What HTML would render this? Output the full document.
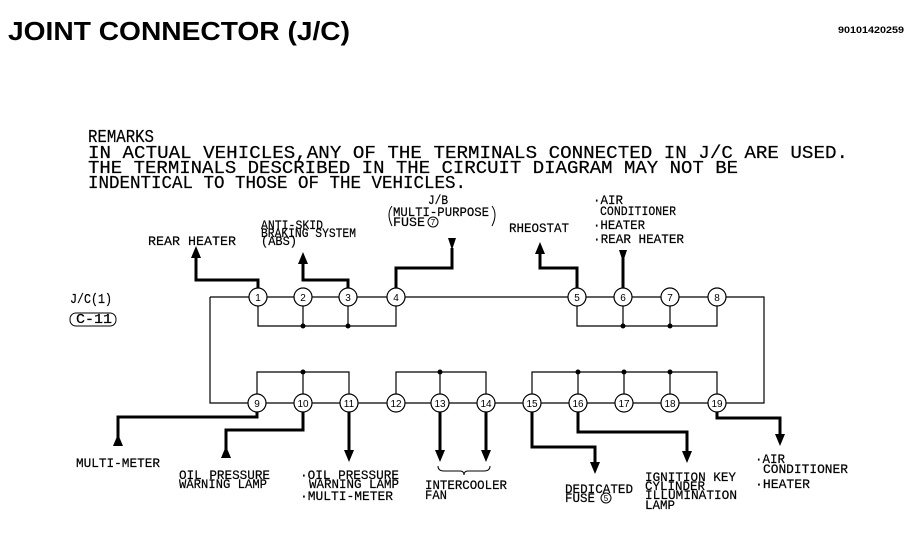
<!DOCTYPE html>
<html><head><meta charset="utf-8"><style>
html,body{margin:0;padding:0;background:#fff;width:922px;height:560px;overflow:hidden}
svg{display:block}
.t{font-family:"Liberation Mono",monospace;font-size:13px;fill:#000;stroke:#000;stroke-width:0.2}
.r{font-family:"Liberation Mono",monospace;font-size:18px;fill:#000;stroke:#000;stroke-width:0.2}
.n{font-family:"Liberation Sans",sans-serif;font-size:10px;fill:#000;text-anchor:middle}
</style></head><body>
<svg width="922" height="560" viewBox="0 0 922 560" xmlns="http://www.w3.org/2000/svg">
<text x="8" y="40" font-family="Liberation Sans,sans-serif" font-weight="bold" font-size="26" textLength="342" lengthAdjust="spacingAndGlyphs">JOINT CONNECTOR (J/C)</text>
<text x="838" y="33" font-family="Liberation Sans,sans-serif" font-weight="bold" font-size="9" textLength="66" lengthAdjust="spacingAndGlyphs">90101420259</text>

<text class="r" x="88" y="142" textLength="66" lengthAdjust="spacingAndGlyphs">REMARKS</text>
<text class="r" x="88" y="158" textLength="760" lengthAdjust="spacingAndGlyphs">IN ACTUAL VEHICLES,ANY OF THE TERMINALS CONNECTED IN J/C ARE USED.</text>
<text class="r" x="88" y="173" textLength="650" lengthAdjust="spacingAndGlyphs">THE TERMINALS DESCRIBED IN THE CIRCUIT DIAGRAM MAY NOT BE</text>
<text class="r" x="88" y="188" textLength="378" lengthAdjust="spacingAndGlyphs">INDENTICAL TO THOSE OF THE VEHICLES.</text>

<g stroke="#000" fill="none" stroke-width="1.2">
<path d="M210 297H764V403H717M210 297V403H717"/>
<path d="M258 297V326H396V297M303 297V326M348 297V326M577 297V326H717V297M623 297V326M670 297V326"/>
<path d="M257 403V372H349V403M303 372V403M396 403V372H486V403M440 372V403M532 403V372H717V403M578 372V403M624 372V403M670 372V403"/>
</g>
<g fill="#000"><circle cx="303" cy="326" r="2.5"/><circle cx="348" cy="326" r="2.5"/><circle cx="623" cy="326" r="2.5"/><circle cx="670" cy="326" r="2.5"/>
<circle cx="303" cy="372" r="2.5"/><circle cx="440" cy="372" r="2.5"/><circle cx="578" cy="372" r="2.5"/><circle cx="624" cy="372" r="2.5"/><circle cx="670" cy="372" r="2.5"/></g>

<g stroke="#000" fill="none" stroke-width="3">
<path d="M258 290V280H196V256"/><path d="M348 290V280H303V262"/><path d="M396 290V268H452V248"/><path d="M577 290V268H540V252"/><path d="M623 290V258"/>
<path d="M257 411V417H118V440"/><path d="M303 411V430H226V452"/><path d="M349 411V452"/><path d="M440 411V452"/><path d="M486 411V452"/>
<path d="M532 411V447H595V464"/><path d="M578 411V432H687V453"/><path d="M717 411V418H780V436"/>
</g>
<g fill="#000">
<path d="M191 258L196 246L201 258Z"/><path d="M298 264L303 252L308 264Z"/><path d="M535 254L540 242L545 254Z"/>
<path d="M448 238L452 250L456 238Z"/><path d="M619 250L623 262L627 250Z"/>
<path d="M113 446L118 434L123 446Z"/><path d="M221 458L226 446L231 458Z"/>
<path d="M344 450L349 462L354 450Z"/><path d="M435 450L440 462L445 450Z"/><path d="M481 450L486 462L491 450Z"/>
<path d="M590 462L595 474L600 462Z"/><path d="M682 451L687 463L692 451Z"/><path d="M775 434L780 446L785 434Z"/>
</g>

<g stroke="#000" fill="#fff" stroke-width="1.2">
<circle cx="258" cy="297" r="9"/><circle cx="303" cy="297" r="9"/><circle cx="348" cy="297" r="9"/><circle cx="396" cy="297" r="9"/>
<circle cx="577" cy="297" r="9"/><circle cx="623" cy="297" r="9"/><circle cx="670" cy="297" r="9"/><circle cx="717" cy="297" r="9"/>
<circle cx="257" cy="403" r="9"/><circle cx="303" cy="403" r="9"/><circle cx="349" cy="403" r="9"/><circle cx="396" cy="403" r="9"/><circle cx="440" cy="403" r="9"/><circle cx="486" cy="403" r="9"/>
<circle cx="532" cy="403" r="9"/><circle cx="578" cy="403" r="9"/><circle cx="624" cy="403" r="9"/><circle cx="670" cy="403" r="9"/><circle cx="717" cy="403" r="9"/>
</g>
<g class="n">
<text x="258" y="301">1</text><text x="303" y="301">2</text><text x="348" y="301">3</text><text x="396" y="301">4</text>
<text x="577" y="301">5</text><text x="623" y="301">6</text><text x="670" y="301">7</text><text x="717" y="301">8</text>
<text x="257" y="407">9</text><text x="303" y="407">10</text><text x="349" y="407">11</text><text x="396" y="407">12</text><text x="440" y="407">13</text><text x="486" y="407">14</text>
<text x="532" y="407">15</text><text x="578" y="407">16</text><text x="624" y="407">17</text><text x="670" y="407">18</text><text x="717" y="407">19</text>
</g>

<g class="t">
<text x="148" y="245" textLength="88" lengthAdjust="spacingAndGlyphs">REAR HEATER</text>
<text x="261" y="229" textLength="62" lengthAdjust="spacingAndGlyphs">ANTI-SKID</text>
<text x="261" y="237" textLength="95" lengthAdjust="spacingAndGlyphs">BRAKING SYSTEM</text>
<text x="261" y="245" textLength="36" lengthAdjust="spacingAndGlyphs">(ABS)</text>
<text x="428" y="204" textLength="20" lengthAdjust="spacingAndGlyphs">J/B</text>
<text x="393" y="216" textLength="96" lengthAdjust="spacingAndGlyphs">MULTI-PURPOSE</text>
<text x="393" y="226" textLength="32" lengthAdjust="spacingAndGlyphs">FUSE</text>
<text x="509" y="232" textLength="60" lengthAdjust="spacingAndGlyphs">RHEOSTAT</text>
<text x="593" y="204" textLength="30" lengthAdjust="spacingAndGlyphs">·AIR</text>
<text x="600" y="215" textLength="76" lengthAdjust="spacingAndGlyphs">CONDITIONER</text>
<text x="593" y="229" textLength="52" lengthAdjust="spacingAndGlyphs">·HEATER</text>
<text x="593" y="243" textLength="91" lengthAdjust="spacingAndGlyphs">·REAR HEATER</text>
<text x="70" y="303" textLength="42" lengthAdjust="spacingAndGlyphs" font-size="14">J/C(1)</text>
<text x="76" y="323" textLength="36" lengthAdjust="spacingAndGlyphs" font-size="14">C-11</text>
<text x="76" y="467" textLength="84" lengthAdjust="spacingAndGlyphs">MULTI-METER</text>
<text x="179" y="479" textLength="91" lengthAdjust="spacingAndGlyphs">OIL PRESSURE</text>
<text x="179" y="488" textLength="88" lengthAdjust="spacingAndGlyphs">WARNING LAMP</text>
<text x="300" y="479" textLength="99" lengthAdjust="spacingAndGlyphs">·OIL PRESSURE</text>
<text x="309" y="488" textLength="90" lengthAdjust="spacingAndGlyphs">WARNING LAMP</text>
<text x="300" y="500" textLength="93" lengthAdjust="spacingAndGlyphs">·MULTI-METER</text>
<text x="425" y="489" textLength="82" lengthAdjust="spacingAndGlyphs">INTERCOOLER</text>
<text x="425" y="499" textLength="22" lengthAdjust="spacingAndGlyphs">FAN</text>
<text x="565" y="493" textLength="68" lengthAdjust="spacingAndGlyphs">DEDICATED</text>
<text x="565" y="502" textLength="30" lengthAdjust="spacingAndGlyphs">FUSE</text>
<text x="645" y="481" textLength="91" lengthAdjust="spacingAndGlyphs">IGNITION KEY</text>
<text x="645" y="490" textLength="60" lengthAdjust="spacingAndGlyphs">CYLINDER</text>
<text x="645" y="499" textLength="92" lengthAdjust="spacingAndGlyphs">ILLUMINATION</text>
<text x="645" y="509" textLength="30" lengthAdjust="spacingAndGlyphs">LAMP</text>
<text x="755" y="463" textLength="30" lengthAdjust="spacingAndGlyphs">·AIR</text>
<text x="763" y="473" textLength="85" lengthAdjust="spacingAndGlyphs">CONDITIONER</text>
<text x="755" y="488" textLength="55" lengthAdjust="spacingAndGlyphs">·HEATER</text>
</g>
<g stroke="#000" fill="none" stroke-width="1">
<path d="M392 206Q386 214 392 226"/><path d="M492 206Q498 214 492 226"/>
<circle cx="433" cy="222" r="5"/><circle cx="606" cy="498" r="5"/>
<rect x="70" y="313" width="46" height="13" rx="6"/>
<path d="M438 466Q438 471 444 471H460Q464 471 464 475Q464 471 468 471H484Q490 471 490 466"/>
</g>
<text x="433" y="225" font-family="Liberation Sans,sans-serif" font-size="8" text-anchor="middle">7</text>
<text x="606" y="501" font-family="Liberation Sans,sans-serif" font-size="8" text-anchor="middle">5</text>
</svg>
</body></html>
